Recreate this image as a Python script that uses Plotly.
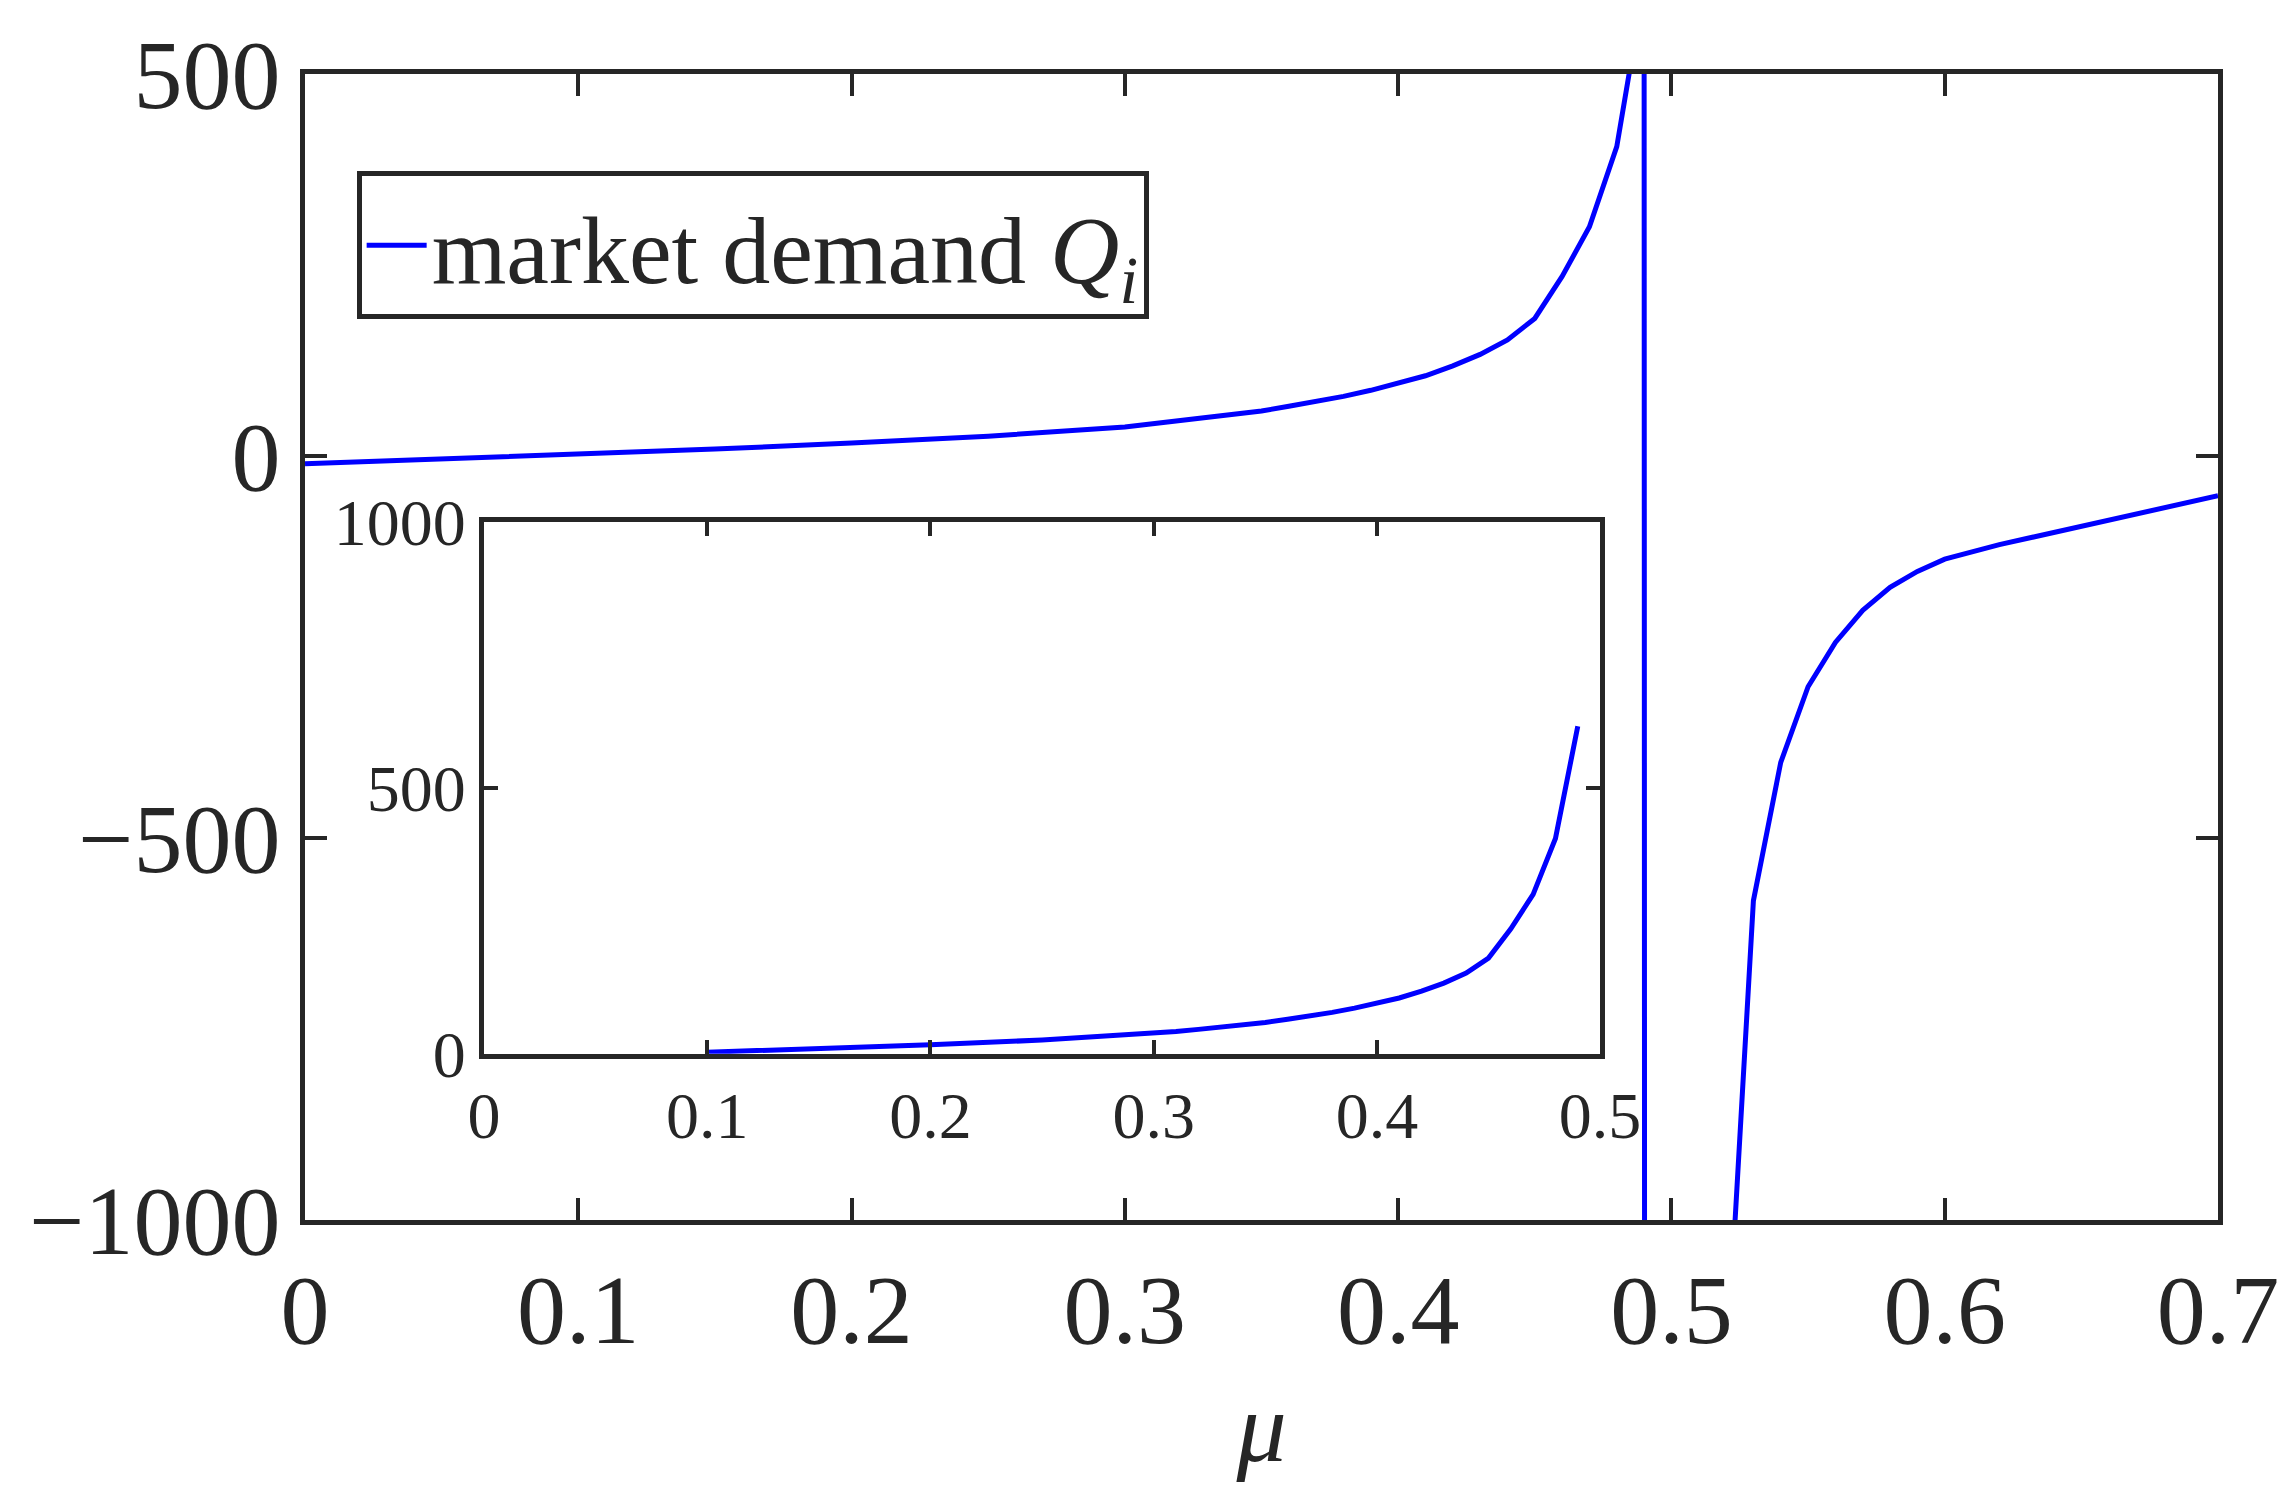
import plotly.graph_objects as go

mu = [0.0, 0.05, 0.1, 0.15, 0.2, 0.25, 0.3, 0.31, 0.32, 0.33, 0.34, 0.35, 0.36, 0.37, 0.38, 0.39,
      0.40, 0.41, 0.42, 0.43, 0.44, 0.45, 0.46, 0.47, 0.48, 0.49,
      0.50, 0.51, 0.52, 0.53, 0.54, 0.55, 0.56, 0.57, 0.58, 0.59, 0.60,
      0.61, 0.62, 0.63, 0.64, 0.65, 0.66, 0.67, 0.68, 0.69, 0.70]
Q = [-10, -4, 3, 9, 17, 26, 38, 42, 46, 50, 54, 59, 65, 71, 78, 86,
     95, 105, 118, 133, 152, 180, 235, 300, 405, 616,
     -100000, -3000, -1206, -582, -401, -302, -244, -202, -172, -151, -135,
     -125, -116, -108, -100, -92, -84, -76, -68, -60, -52]

xticks = [0, 0.1, 0.2, 0.3, 0.4, 0.5, 0.6, 0.7]
xtick_text = ["0", "0.1", "0.2", "0.3", "0.4", "0.5", "0.6", "0.7"]
yticks = [-1000, -500, 0, 500]
ytick_text = ["\u22121000", "\u2212500", "0", "500"]
inset_xticks = [0, 0.1, 0.2, 0.3, 0.4, 0.5]
inset_xtick_text = ["0", "0.1", "0.2", "0.3", "0.4", "0.5"]
inset_yticks = [0, 500, 1000]

ins_mu = [m for m in mu if 0.1 <= m <= 0.49]
ins_Q = [q for m, q in zip(mu, Q) if 0.1 <= m <= 0.49]

axc = "#262626"
font = "Liberation Serif"
fig = go.Figure()
fig.add_trace(go.Scatter(x=mu, y=Q, mode="lines", line=dict(color="#0000ff", width=5),
                         name="market demand <i>Q</i><sub><i>i</i></sub>"))
fig.add_trace(go.Scatter(x=ins_mu, y=ins_Q, mode="lines", line=dict(color="#0000ff", width=5),
                         xaxis="x2", yaxis="y2", showlegend=False))

common = dict(showline=True, linecolor=axc, linewidth=5, mirror="ticks", ticks="inside",
              tickcolor=axc, tickwidth=4, showgrid=False, zeroline=False)
fig.update_layout(
    width=2295, height=1498, paper_bgcolor="white", plot_bgcolor="white",
    margin=dict(l=297, r=85, t=66, b=286),
    font=dict(family=font, color=axc),
    xaxis=dict(range=[0, 0.7], tickvals=xticks, ticktext=xtick_text, ticklen=22,
               tickfont=dict(size=98), title=dict(text="<i>\u03bc</i>", font=dict(size=100), standoff=30), **common),
    yaxis=dict(range=[-1000, 500], tickvals=yticks, ticktext=ytick_text, ticklen=22,
               tickfont=dict(size=98), **common),
    xaxis2=dict(domain=[0.0936, 0.677], anchor="y2", range=[0, 0.5], tickvals=inset_xticks,
                ticktext=inset_xtick_text, ticklen=14, tickfont=dict(size=66), **common),
    yaxis2=dict(domain=[0.145, 0.609], anchor="x2", range=[0, 1000], tickvals=inset_yticks,
                ticklen=14, tickfont=dict(size=66), **common),
    legend=dict(x=0.027, y=0.915, xanchor="left", yanchor="top", bgcolor="white",
                bordercolor=axc, borderwidth=5, font=dict(size=96), itemwidth=60),
)
fig.write_html("out.html")
